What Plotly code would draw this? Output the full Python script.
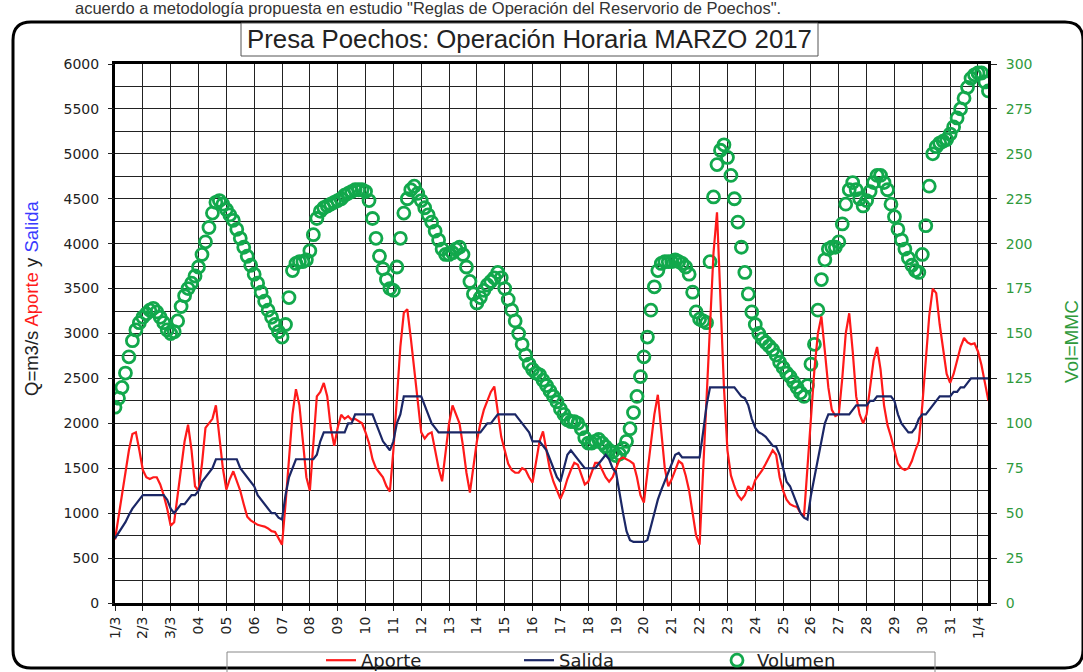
import plotly.graph_objects as go

# ---------------- data (3-hour readings, 1 Mar 00:00 onward) ----------------
step_days = 0.125
tick_labels = ["1/3", "2/3", "3/3", "04", "05", "06", "07", "08", "09", "10", "11", "12",
               "13", "14", "15", "16", "17", "18", "19", "20", "21", "22", "23", "24",
               "25", "26", "27", "28", "29", "30", "31", "1/4"]

volumen = [
    109, 114, 120, 128, 137, 146, 152, 156,
    159, 161, 163, 164, 162, 159, 156, 152,
    150, 151, 157, 165, 171, 175, 178, 182,
    187, 194, 201, 209, 217, 223, 224, 222,
    219, 216, 213, 208, 203, 198, 193, 188,
    183, 178, 173, 168, 163, 159, 155, 151,
    148, 155, 170, 185, 189, 190, 190, 191,
    196, 205, 214, 218, 220, 221, 222, 223,
    224, 225, 227, 228, 229, 230, 230, 230,
    229, 224, 214, 203, 193, 186, 180, 175,
    174, 187, 203, 217, 225, 230, 232, 228,
    224, 220, 216, 212, 207, 202, 197, 194,
    194, 195, 197, 198, 194, 187, 179, 172,
    167, 170, 174, 177, 179, 181, 184, 181,
    175, 169, 163, 157, 150, 144, 138, 133,
    130, 128, 127, 124, 121, 118, 115, 112,
    108, 105, 102, 101, 101, 100, 97, 92,
    89, 89, 90, 91, 89, 87, 85, 84,
    82, 83, 86, 90, 97, 106, 115, 126,
    137, 148, 163, 176, 185, 189, 190, 190,
    190, 191, 190, 189, 187, 183, 173, 162,
    158, 157, 156, 190, 226, 244, 252, 255,
    248, 238, 225, 212, 198, 184, 172, 162,
    155, 150, 147, 145, 143, 141, 138, 134,
    131, 128, 126, 123, 120, 117, 115, 121,
    133, 144, 163, 180, 191, 197, 198, 198,
    201, 211, 222, 230, 234, 230, 225, 221,
    224, 229, 234, 238, 238, 234, 230, 222,
    215, 208, 202, 197, 192, 188, 185, 184,
    194, 210, 232, 250, 254, 256, 257, 258,
    261, 265, 270, 275, 281, 287, 292, 294,
    295, 295, 290, 285,
]

aporte = [
    706, 950, 1200, 1450, 1700, 1880, 1900, 1700,
    1480, 1400, 1380, 1400, 1400, 1320, 1200, 1050,
    860, 900, 1200, 1500, 1800, 1985, 1700, 1300,
    1250, 1550, 1950, 2000, 2050, 2200, 1850, 1500,
    1262, 1380, 1466, 1350, 1250, 1100, 960, 920,
    890, 870, 860, 850, 830, 800, 790, 720,
    650, 1100, 1600, 2100, 2380, 2200, 1800, 1400,
    1250, 1800, 2300, 2350, 2450, 2300, 1950, 1750,
    1950, 2096, 2050, 2080, 2040, 2050, 2020, 2000,
    1900, 1780, 1600, 1500, 1450, 1400, 1300, 1240,
    1700, 2300, 2850, 3230, 3270, 2950, 2600, 2250,
    1900, 1830, 1880, 1900, 1700, 1500, 1355, 1700,
    2000, 2200, 2100, 2000, 1750, 1450, 1230, 1500,
    1800, 2000, 2150, 2250, 2350, 2410, 2150, 1850,
    1700, 1550, 1480, 1450, 1450, 1500, 1480, 1400,
    1340, 1550, 1800, 1910, 1700, 1480, 1350, 1250,
    1160, 1250, 1380, 1480, 1560, 1540, 1420, 1320,
    1350, 1450, 1560, 1560, 1480, 1400, 1350, 1400,
    1500, 1600, 1620, 1600, 1580, 1550, 1400, 1200,
    1118, 1450, 1800, 2100, 2318, 1900, 1500, 1300,
    1380, 1480, 1580, 1550, 1420, 1250, 1000, 750,
    650, 1500, 2300, 3100, 3900, 4350, 3300, 2400,
    1700, 1420, 1300, 1200, 1150, 1200, 1300, 1250,
    1370, 1420, 1480, 1550, 1630, 1700, 1650, 1400,
    1250, 1150, 1100, 1080, 1070, 1000, 965, 1500,
    2100, 2600, 3000, 3190, 2800, 2400, 2150, 2080,
    2100, 2500, 3000, 3225, 2800, 2300, 2100, 2000,
    2100, 2400, 2700, 2850, 2600, 2200, 1980, 1850,
    1700, 1550, 1500, 1480, 1500, 1580, 1700, 1800,
    2200, 2700, 3200, 3500, 3450, 3100, 2800, 2550,
    2450, 2550, 2700, 2850, 2950, 2900, 2880, 2890,
    2800, 2650, 2450, 2250,
]

salida = [
    720, 780, 840, 900, 980, 1050, 1100, 1150,
    1200, 1200, 1200, 1200, 1200, 1200, 1200, 1150,
    1050, 1000, 1050, 1100, 1100, 1150, 1200, 1200,
    1250, 1350, 1400, 1450, 1500, 1600, 1600, 1600,
    1600, 1600, 1600, 1600, 1500, 1450, 1400, 1350,
    1300, 1200, 1150, 1100, 1050, 1000, 1000, 950,
    930, 1200, 1400, 1500, 1600, 1600, 1600, 1600,
    1600, 1600, 1650, 1800, 1900, 1900, 1900, 1900,
    1900, 1900, 1900, 2000, 2000, 2100, 2100, 2100,
    2100, 2100, 2100, 2000, 1900, 1800, 1750, 1700,
    1800, 2000, 2100, 2300, 2300, 2300, 2300, 2300,
    2300, 2200, 2100, 2000, 1950, 1900, 1900, 1900,
    1900, 1900, 1900, 1900, 1900, 1900, 1900, 1900,
    1900, 1900, 1950, 2000, 2000, 2050, 2100, 2100,
    2100, 2100, 2100, 2100, 2050, 2000, 1950, 1900,
    1800, 1800, 1800, 1750, 1700, 1600, 1500, 1400,
    1350, 1500, 1650, 1700, 1650, 1600, 1550, 1500,
    1500, 1500, 1500, 1550, 1600, 1650, 1600, 1500,
    1450, 1200, 1000, 800, 700, 680, 680, 680,
    680, 700, 850, 1000, 1150, 1260, 1350, 1450,
    1550, 1650, 1670, 1620, 1620, 1620, 1620, 1620,
    1620, 1900, 2200, 2400, 2400, 2400, 2400, 2400,
    2400, 2400, 2400, 2350, 2300, 2280, 2200, 2050,
    1950, 1900, 1880, 1850, 1800, 1750, 1740, 1650,
    1500, 1350, 1300, 1200, 1100, 1000, 950, 930,
    1200, 1400, 1600, 1800, 2000, 2100, 2100, 2100,
    2100, 2100, 2100, 2100, 2150, 2200, 2200, 2200,
    2200, 2250, 2250, 2300, 2300, 2300, 2300, 2300,
    2250, 2100, 2000, 1950, 1900, 1900, 1950, 2050,
    2100, 2100, 2150, 2200, 2250, 2300, 2300, 2300,
    2300, 2350, 2350, 2400, 2400, 2450, 2500, 2500,
    2500, 2500, 2500, 2500,
]

# ---------------- layout geometry helpers ----------------
W, H = 1083, 672
L, R, T, B = 115, 95, 64, 69
PW, PH = W - L - R, H - T - B


def px(X):
    return (X - L) / PW


def py(Y):
    return (H - B - Y) / PH


def xs(n):
    return [i * step_days for i in range(n)]


FONT = "Liberation Sans, Arial, sans-serif"
TICKFONT = "DejaVu Sans, Verdana, sans-serif"
RED = "#ff1a1a"
NAVY = "#1b2766"
GREEN = "#12a84c"
GREEN_TXT = "#2f9a3c"

fig = go.Figure()

# Volumen on base axis (right side), flows on overlaying left axis so lines sit on top
fig.add_trace(go.Scatter(
    x=xs(len(volumen)), y=volumen, name="Volumen", mode="markers",
    marker=dict(symbol="circle-open", size=12, color=GREEN, line=dict(width=2.8, color=GREEN)),
    yaxis="y", legendrank=3,
))
fig.add_trace(go.Scatter(
    x=xs(len(aporte)), y=aporte, name="Aporte", mode="lines",
    line=dict(color=RED, width=2.2), yaxis="y2", legendrank=1,
))
fig.add_trace(go.Scatter(
    x=xs(len(salida)), y=salida, name="Salida", mode="lines",
    line=dict(color=NAVY, width=2.2), yaxis="y2", legendrank=2,
))

fig.update_layout(
    width=W, height=H,
    margin=dict(l=L, r=R, t=T, b=B, autoexpand=False),
    paper_bgcolor="white", plot_bgcolor="white",
    font=dict(family=FONT, size=14, color="#222"),
    showlegend=True,
    legend=dict(orientation="h", x=px(321), xanchor="left", y=py(642), yanchor="top",
                entrywidth=153, entrywidthmode="pixels",
                font=dict(size=18, color="#222", family=TICKFONT),
                bgcolor="rgba(0,0,0,0)", borderwidth=0, traceorder="normal"),
    xaxis=dict(
        range=[0, 31.36], tickmode="array", tickvals=list(range(len(tick_labels))),
        ticktext=tick_labels, tickangle=-90, ticks="outside", ticklen=5, tickcolor="#222",
        tickfont=dict(size=14, color="#222", family=TICKFONT),
        showgrid=True, gridcolor="#222", gridwidth=1,
        showline=True, linecolor="black", linewidth=3, mirror=True, zeroline=False,
    ),
    yaxis=dict(
        side="right", range=[0, 300], dtick=25, ticks="outside", ticklen=6, tickcolor="#222",
        tickfont=dict(size=14, color=GREEN_TXT, family=TICKFONT), ticklabelstandoff=6,
        showgrid=True, gridcolor="#222", gridwidth=1,
        minor=dict(dtick=12.5, showgrid=True, gridcolor="#222", gridwidth=1, ticks=""),
        showline=True, linecolor="black", linewidth=3, mirror=True, zeroline=False,
    ),
    yaxis2=dict(
        side="left", overlaying="y", anchor="x", range=[0, 6000], dtick=500,
        ticks="outside", ticklen=6, tickcolor="#222",
        tickfont=dict(size=14, color="#222", family=TICKFONT),
        ticklabelstandoff=6, showgrid=False, zeroline=False, showline=False,
    ),
)

# rounded outer frame
x0, x1, yt, yb = px(13), px(1083), py(22), py(668)
rx, ry = 18 / PW, 18 / PH
frame = (f"M {x0+rx},{yt} L {x1-rx},{yt} Q {x1},{yt} {x1},{yt-ry} L {x1},{yb+ry} "
         f"Q {x1},{yb} {x1-rx},{yb} L {x0+rx},{yb} Q {x0},{yb} {x0},{yb+ry} "
         f"L {x0},{yt-ry} Q {x0},{yt} {x0+rx},{yt} Z")
fig.add_shape(type="path", path=frame, xref="paper", yref="paper",
              line=dict(color="black", width=3), layer="above")

# title box
fig.add_shape(type="rect", xref="paper", yref="paper", x0=px(241), x1=px(818), y0=py(56), y1=py(23),
              line=dict(color="#555", width=1), fillcolor="white", layer="above")
fig.add_annotation(text="Presa Poechos: Operación Horaria MARZO 2017", xref="paper", yref="paper",
                   x=px(529), y=py(39), showarrow=False, xanchor="center", yanchor="middle",
                   font=dict(size=25.8, color="#222", family=FONT))

# legend frame
fig.add_shape(type="rect", xref="paper", yref="paper", x0=px(227), x1=px(935), y0=py(700), y1=py(652),
              line=dict(color="#888", width=1), layer="above")

# text line above the chart (sits at the very top edge)
fig.add_annotation(text='acuerdo a metodología propuesta en estudio "Reglas de Operación del Reservorio de Poechos".',
                   xref="paper", yref="paper", x=px(428), y=py(8), showarrow=False,
                   xanchor="center", yanchor="middle", font=dict(size=16.5, color="#333", family=FONT))

# axis titles
fig.add_annotation(
    text='Q=m3/s <span style="color:#ff1a1a">Aporte</span> y <span style="color:#3a3aff">Salida</span>',
    xref="paper", yref="paper", x=px(31), y=py(298), textangle=-90, showarrow=False,
    xanchor="center", yanchor="middle", font=dict(size=18.5, color="#222", family=FONT))
fig.add_annotation(
    text="Vol=MMC", xref="paper", yref="paper", x=px(1071), y=py(342), textangle=-90,
    showarrow=False, xanchor="center", yanchor="middle",
    font=dict(size=19, color=GREEN_TXT, family=FONT))

fig.write_html("out.html", config={"displayModeBar": False},
               post_script="document.body.style.margin='0px';")
